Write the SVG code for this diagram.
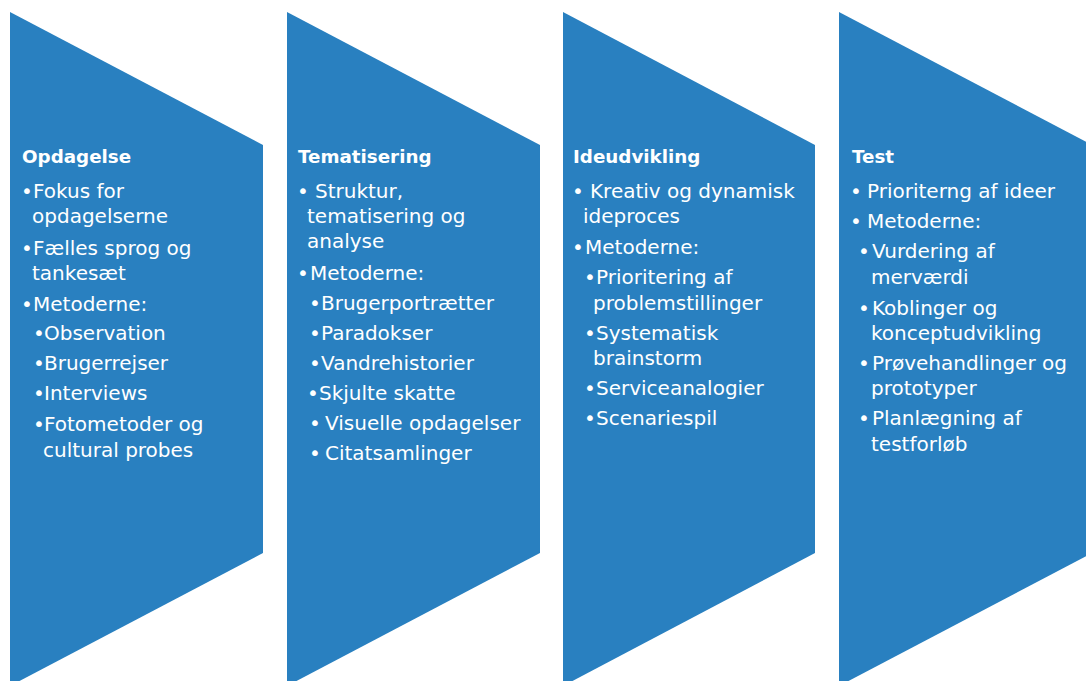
<svg xmlns="http://www.w3.org/2000/svg" width="1086" height="681" viewBox="0 0 1086 681">
<style>
.shape{fill:#2980C0}
text{font-family:"DejaVu Sans","Open Sans",sans-serif;fill:#ffffff;font-size:20px}
.h{font-weight:bold;font-size:18.3px}
</style>
<rect width="1086" height="681" fill="#ffffff"/>
<g id="opdagelse">
<polygon class="shape" points="10,12 263,145 263,553 10,686"/>
<text class="h" x="22" y="163">Opdagelse</text>
<text y="198"><tspan x="21">•</tspan><tspan x="33">Fokus for</tspan><tspan x="32" y="223">opdagelserne</tspan></text>
<text y="255"><tspan x="21">•</tspan><tspan x="33">Fælles sprog og</tspan><tspan x="32" y="280">tankesæt</tspan></text>
<text y="311"><tspan x="21">•</tspan><tspan x="33">Metoderne:</tspan></text>
<text y="340"><tspan x="33">•</tspan><tspan x="44">Observation</tspan></text>
<text y="370"><tspan x="33">•</tspan><tspan x="44">Brugerrejser</tspan></text>
<text y="400"><tspan x="33">•</tspan><tspan x="44">Interviews</tspan></text>
<text y="431"><tspan x="33">•</tspan><tspan x="44">Fotometoder og</tspan><tspan x="43" y="457">cultural probes</tspan></text>
</g>
<g id="tematisering">
<polygon class="shape" points="287,12 540,145 540,553 287,686"/>
<text class="h" x="298" y="163">Tematisering</text>
<text y="198"><tspan x="297">•</tspan><tspan x="315">Struktur,</tspan><tspan x="307" y="223">tematisering og</tspan><tspan x="307" y="248">analyse</tspan></text>
<text y="280"><tspan x="297">•</tspan><tspan x="310">Metoderne:</tspan></text>
<text y="310"><tspan x="309">•</tspan><tspan x="321">Brugerportrætter</tspan></text>
<text y="340"><tspan x="309">•</tspan><tspan x="321">Paradokser</tspan></text>
<text y="370"><tspan x="309">•</tspan><tspan x="321">Vandrehistorier</tspan></text>
<text y="400"><tspan x="307">•</tspan><tspan x="319">Skjulte skatte</tspan></text>
<text y="430"><tspan x="309">•</tspan><tspan x="325">Visuelle opdagelser</tspan></text>
<text y="460"><tspan x="309">•</tspan><tspan x="325">Citatsamlinger</tspan></text>
</g>
<g id="ideudvikling">
<polygon class="shape" points="563,12 815,145 815,553 563,686"/>
<text class="h" x="573" y="163">Ideudvikling</text>
<text y="198"><tspan x="572">•</tspan><tspan x="590">Kreativ og dynamisk</tspan><tspan x="583" y="223">ideproces</tspan></text>
<text y="254"><tspan x="572">•</tspan><tspan x="585">Metoderne:</tspan></text>
<text y="284"><tspan x="584">•</tspan><tspan x="596">Prioritering af</tspan><tspan x="593" y="310">problemstillinger</tspan></text>
<text y="340"><tspan x="584">•</tspan><tspan x="596">Systematisk</tspan><tspan x="593" y="365">brainstorm</tspan></text>
<text y="395"><tspan x="584">•</tspan><tspan x="596">Serviceanalogier</tspan></text>
<text y="425"><tspan x="584">•</tspan><tspan x="596">Scenariespil</tspan></text>
</g>
<g id="test">
<polygon class="shape" points="839,12 1092,145 1092,553 839,686"/>
<text class="h" x="852" y="163">Test</text>
<text y="198"><tspan x="850">•</tspan><tspan x="867">Prioriterng af ideer</tspan></text>
<text y="228"><tspan x="850">•</tspan><tspan x="867">Metoderne:</tspan></text>
<text y="258"><tspan x="858">•</tspan><tspan x="872">Vurdering af</tspan><tspan x="871" y="284">merværdi</tspan></text>
<text y="315"><tspan x="858">•</tspan><tspan x="872">Koblinger og</tspan><tspan x="871" y="340">konceptudvikling</tspan></text>
<text y="370"><tspan x="858">•</tspan><tspan x="872">Prøvehandlinger og</tspan><tspan x="871" y="395">prototyper</tspan></text>
<text y="425"><tspan x="858">•</tspan><tspan x="872">Planlægning af</tspan><tspan x="871" y="451">testforløb</tspan></text>
</g>
</svg>
